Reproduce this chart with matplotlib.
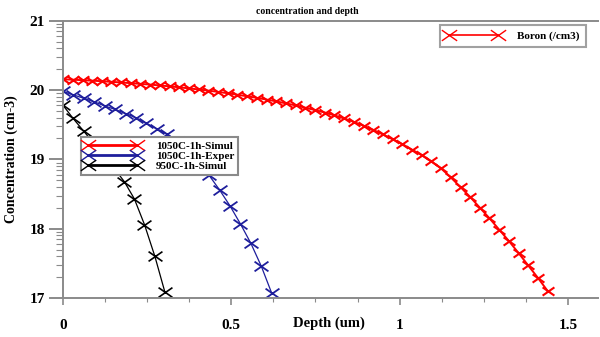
import numpy as np
import matplotlib
matplotlib.use('Agg')
import matplotlib.pyplot as plt
from matplotlib.path import Path

# depth (um) and log10 concentration (cm-3)
red_depth = [0.000, 0.029, 0.058, 0.086, 0.115, 0.144, 0.173, 0.202, 0.230, 0.259,
             0.288, 0.317, 0.346, 0.374, 0.403, 0.432, 0.461, 0.490, 0.518, 0.547,
             0.576, 0.605, 0.634, 0.662, 0.691, 0.720, 0.749, 0.778, 0.806, 0.835,
             0.864, 0.893, 0.922, 0.950, 0.979, 1.008, 1.037, 1.066, 1.094, 1.123,
             1.152, 1.181, 1.210, 1.238, 1.267, 1.296, 1.325, 1.354, 1.382, 1.411,
             1.440]
red_conc = [20.155, 20.149, 20.142, 20.135, 20.127, 20.118, 20.109, 20.099, 20.089, 20.078,
            20.066, 20.053, 20.039, 20.024, 20.008, 19.991, 19.973, 19.953, 19.932, 19.910,
            19.887, 19.862, 19.836, 19.808, 19.778, 19.745, 19.710, 19.675, 19.635, 19.590,
            19.540, 19.485, 19.425, 19.360, 19.290, 19.220, 19.140, 19.060, 18.970, 18.870,
            18.740, 18.600, 18.455, 18.305, 18.150, 17.985, 17.820, 17.645, 17.470, 17.290,
            17.100]

blue_depth = [0.000, 0.031, 0.062, 0.093, 0.124, 0.155, 0.186, 0.217, 0.248, 0.279,
              0.310, 0.341, 0.372, 0.403, 0.434, 0.465, 0.496, 0.527, 0.558, 0.589,
              0.620]
blue_conc = [19.98, 19.93, 19.88, 19.83, 19.77, 19.72, 19.66, 19.60, 19.52, 19.44,
             19.36, 19.26, 19.14, 19.00, 18.77, 18.56, 18.33, 18.07, 17.79, 17.46,
             17.07]

black_depth = [0.000, 0.030, 0.061, 0.091, 0.121, 0.152, 0.182, 0.212, 0.242, 0.273, 0.303]
black_conc = [19.78, 19.59, 19.41, 19.23, 19.05, 18.87, 18.68, 18.43, 18.06, 17.60, 17.08]

labels = ['1050C-1h-Simul', '1050C-1h-Exper', '950C-1h-Simul']

serif = 'Liberation Serif'
blue = '#1e1e9c'

# wide x marker
xmark = Path([(-1, -0.7), (1, 0.7), (-1, 0.7), (1, -0.7)],
             [Path.MOVETO, Path.LINETO, Path.MOVETO, Path.LINETO])

fig = plt.figure(figsize=(6, 3.37), dpi=100)
ax = fig.add_axes([0.105, 0.1157, 0.892, 0.8229])

l1, = ax.plot(red_depth, red_conc, color='red', lw=1.4, marker=xmark, ms=8.5, mew=1.5)
l2, = ax.plot(blue_depth, blue_conc, color=blue, lw=0.9, marker=xmark, ms=10, mew=1.3)
l3, = ax.plot(black_depth, black_conc, color='black', lw=0.9, marker=xmark, ms=10, mew=1.2)

ax.set_xlim(0, 1.59)
ax.set_ylim(17, 21)

ax.set_xticks([0, 0.5, 1, 1.5])
ax.set_xticklabels(['0', '0.5', '1', '1.5'])
ax.set_xticks(np.arange(0, 1.6, 0.125), minor=True)
ax.set_yticks([17, 18, 19, 20, 21])
ax.set_yticks([n + np.log10(k) for n in range(17, 21) for k in range(2, 10)], minor=True)

gray = '#8a8a8a'
for s in ['left', 'bottom', 'top']:
    ax.spines[s].set_color(gray)
    ax.spines[s].set_linewidth(1.4)
ax.spines['right'].set_visible(False)

ax.tick_params(axis='y', which='major', direction='out', length=10, width=1.4, color=gray, pad=3)
ax.tick_params(axis='y', which='minor', direction='out', length=5, width=0.8, color=gray)
ax.tick_params(axis='x', which='major', direction='out', length=5, width=1.2, color=gray, pad=10)
ax.tick_params(axis='x', which='minor', direction='out', length=3, width=0.8, color=gray)

for t in ax.get_xticklabels() + ax.get_yticklabels():
    t.set_fontfamily(serif)
    t.set_fontweight('bold')
    t.set_fontsize(11)

ax.set_xlabel('Depth (um)', fontfamily=serif, fontweight='bold', fontsize=10.5)
ax.xaxis.set_label_coords(0.497, -0.065)
ax.set_ylabel('Concentration (cm-3)', fontfamily=serif, fontweight='bold', fontsize=10)
ax.yaxis.set_label_coords(-0.085, 0.5)

fig.text(0.512, 0.965, 'concentration and depth', ha='center', va='center',
         fontfamily=serif, fontweight='bold', fontsize=7)

prop = {'family': serif, 'weight': 'bold', 'size': 8}
leg1 = ax.legend([l1], ['Boron (/cm3)'], loc='upper left', bbox_to_anchor=(0.704, 0.9845),
                 borderaxespad=0, prop=prop, fancybox=False, numpoints=2,
                 handlelength=5.0, handletextpad=1.4, borderpad=0.55, frameon=True)
leg1.get_frame().set_edgecolor(gray)
leg1.get_frame().set_linewidth(1.5)
for h in leg1.legend_handles:
    h.set_linewidth(1.2)
    h.set_markeredgewidth(1.0)
    h.set_markersize(11)
ax.add_artist(leg1)

leg2 = ax.legend([l1, l2, l3], labels, loc='upper left', bbox_to_anchor=(0.0335, 0.5806),
                 borderaxespad=0, prop=prop, fancybox=False, numpoints=2,
                 handlelength=5.0, handletextpad=1.4, borderpad=0.35, labelspacing=0.05,
                 framealpha=1)
leg2.get_frame().set_edgecolor(gray)
leg2.get_frame().set_linewidth(1.5)
for h in leg2.legend_handles:
    h.set_linewidth(2)
    h.set_markeredgewidth(1.0)
    h.set_markersize(11)

fig.savefig('out.png', dpi=100)
